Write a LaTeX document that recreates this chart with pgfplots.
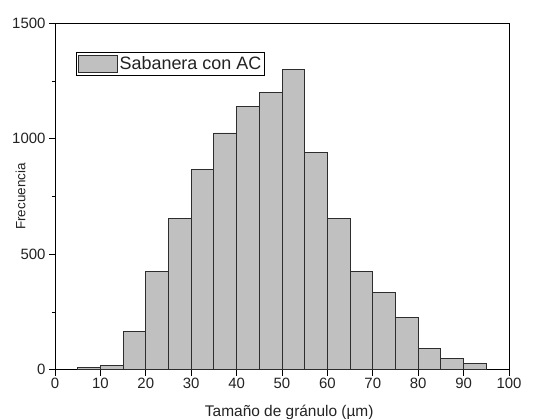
\documentclass[border=0pt]{standalone}
\usepackage{pgfplots}
\pgfplotsset{compat=1.18}
\usepackage{fontspec}
\setmainfont{Liberation Sans}
\definecolor{barfill}{RGB}{192,192,192}
\definecolor{baredge}{RGB}{45,45,45}
\definecolor{txt}{RGB}{35,35,35}
% rectangular patch used as legend symbol for the histogram
\pgfplotsset{histpatch/.style={legend image code/.code={%
  \draw[##1] (0bp,-8.5bp) rectangle (39bp,8.5bp);}}}

\begin{document}
\begin{tikzpicture}
\useasboundingbox (-55bp,-49.3bp) rectangle (482bp,369.7bp);
\begin{axis}[
  at={(0,0)}, anchor=south west,
  scale only axis, width=454bp, height=346.4bp,
  xmin=0, xmax=100, ymin=0, ymax=1500,
  xtick={0,10,...,100}, ytick={0,500,1000,1500},
  minor ytick={250,750,1250},
  tick pos=left, tick align=outside,
  major tick length=6bp, minor tick length=3bp,
  axis line style={black, line width=0.8bp},
  every tick/.style={black, line width=0.8bp},
  /pgf/number format/assume math mode=true,
  /pgf/number format/1000 sep={},
  ticklabel style={font=\fontsize{15}{17}\selectfont, text=txt},
  xticklabel style={yshift=1.5bp},
  xlabel={Tamaño de gránulo (µm)},
  ylabel={Frecuencia},
  xlabel style={at={(axis description cs:0.516,-0.1357)}, anchor=base,
    font=\fontsize{15.5}{17}\selectfont, text=txt},
  ylabel style={at={(axis description cs:-0.076,0.5)}, anchor=center,
    font=\fontsize{13.5}{15}\selectfont, text=txt},
  legend style={at={(rel axis cs:0.046,0.917)}, anchor=north west,
    draw=black, line width=0.8bp, inner xsep=1.5bp, inner ysep=2bp,
    font=\fontsize{18}{20}\selectfont, text=txt},
  legend cell align=left,
]
% grain size histogram, 5 um classes from 5 to 95 um
\addplot[ybar interval, fill=barfill, draw=baredge, line width=0.9bp, histpatch]
  coordinates {
    (5,10) (10,20) (15,165) (20,425) (25,655) (30,865) (35,1025)
    (40,1140) (45,1200) (50,1300) (55,940) (60,655) (65,425)
    (70,335) (75,225) (80,90) (85,50) (90,25) (95,0)
  };
\addlegendentry{Sabanera con AC}
\end{axis}
\end{tikzpicture}
\end{document}
